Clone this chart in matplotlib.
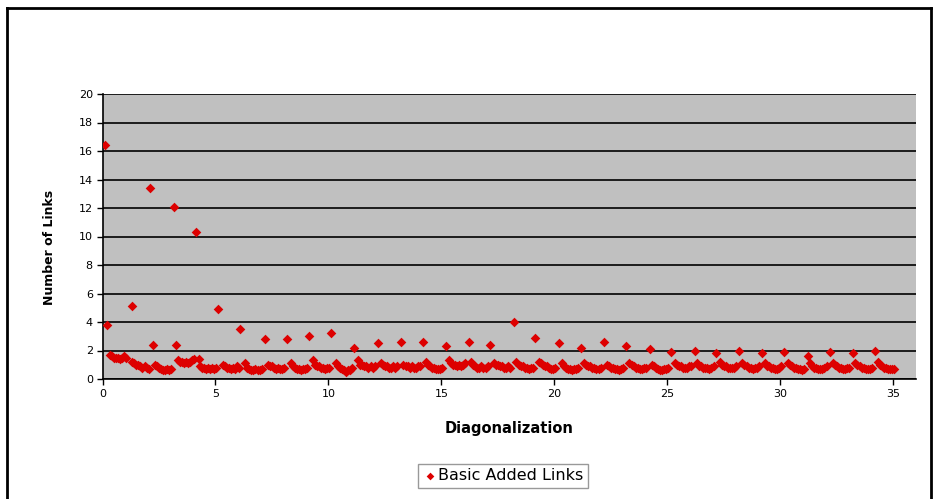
import numpy as np
import matplotlib
matplotlib.use("Agg")
import matplotlib.pyplot as plt
from matplotlib.lines import Line2D

# peak point of every diagonalization step (x, value)
peak_x = [0.09, 1.31, 2.11, 3.17, 4.14, 5.10, 6.08, 7.18, 8.15, 9.16,
          10.13, 11.14, 12.20, 13.21, 14.18, 15.19, 16.20, 17.17, 18.19, 19.15,
          20.21, 21.18, 22.19, 23.16, 24.22, 25.14, 26.20, 27.13, 28.18, 29.19,
          30.16, 31.22, 32.19, 33.20, 34.17]
peak_y = [16.4, 5.1, 13.4, 12.1, 10.3, 4.9, 3.5, 2.8, 2.8, 3.0,
          3.2, 2.2, 2.5, 2.6, 2.6, 2.3, 2.6, 2.4, 4.0, 2.9,
          2.5, 2.2, 2.6, 2.3, 2.1, 1.9, 2.0, 1.8, 2.0, 1.8,
          1.9, 1.6, 1.9, 1.8, 2.0]

# a few second points right after the peak
extra_x = [0.22, 2.25, 3.26, 4.27]
extra_y = [3.8, 2.4, 2.4, 1.4]

# offsets of the low points inside each step
low_off = [0.32, 0.41, 0.50, 0.59, 0.68, 0.77, 0.86, 0.95, 1.04]
low_y = [
    [1.7, 1.6, 1.5, 1.5, 1.5, 1.4, 1.5, 1.6, 1.5],
    [1.2, 1.1, 1.0, 1.0, 0.9, 0.8, 0.9, 0.8, 0.7],
    [1.0, 0.9, 0.8, 0.7, 0.6, 0.6, 0.7, 0.6, 0.7],
    [1.3, 1.2, 1.2, 1.1, 1.2, 1.1, 1.2, 1.3, 1.4],
    [0.9, 0.8, 0.8, 0.7, 0.8, 0.7, 0.8, 0.7, 0.8],
    [1.0, 0.9, 0.8, 0.8, 0.7, 0.8, 0.7, 0.9, 0.8],
    [1.1, 0.8, 0.7, 0.6, 0.6, 0.7, 0.6, 0.6, 0.7],
    [1.0, 0.9, 0.9, 0.8, 0.7, 0.8, 0.7, 0.7, 0.8],
    [1.1, 0.9, 0.8, 0.7, 0.7, 0.6, 0.7, 0.7, 0.8],
    [1.3, 1.0, 0.9, 0.9, 0.8, 0.8, 0.7, 0.8, 0.8],
    [1.1, 0.9, 0.8, 0.7, 0.6, 0.5, 0.6, 0.6, 0.8],
    [1.3, 1.0, 1.0, 0.9, 0.9, 0.8, 0.9, 0.8, 0.9],
    [1.1, 1.0, 0.9, 0.9, 0.8, 0.8, 0.9, 0.8, 0.9],
    [1.0, 0.9, 0.9, 0.8, 0.9, 0.8, 0.8, 0.9, 0.9],
    [1.2, 1.0, 0.9, 0.8, 0.8, 0.7, 0.7, 0.7, 0.8],
    [1.3, 1.1, 1.0, 1.0, 0.9, 1.0, 0.9, 1.0, 1.1],
    [1.2, 1.0, 0.9, 0.8, 0.8, 0.9, 0.8, 0.8, 0.9],
    [1.1, 1.0, 1.0, 0.9, 0.9, 0.8, 0.8, 0.9, 0.8],
    [1.2, 1.0, 0.9, 0.9, 0.8, 0.8, 0.7, 0.8, 0.8],
    [1.2, 1.1, 1.0, 0.9, 0.9, 0.8, 0.7, 0.7, 0.8],
    [1.1, 0.9, 0.8, 0.7, 0.7, 0.6, 0.7, 0.7, 0.8],
    [1.1, 1.0, 0.9, 0.9, 0.8, 0.8, 0.7, 0.7, 0.8],
    [1.0, 0.9, 0.8, 0.8, 0.7, 0.7, 0.6, 0.7, 0.8],
    [1.1, 1.0, 0.9, 0.8, 0.8, 0.7, 0.7, 0.8, 0.8],
    [1.0, 0.9, 0.8, 0.7, 0.6, 0.6, 0.7, 0.7, 0.8],
    [1.1, 1.0, 0.9, 0.9, 0.8, 0.8, 0.8, 0.9, 0.9],
    [1.1, 0.9, 0.9, 0.8, 0.8, 0.8, 0.7, 0.8, 0.9],
    [1.2, 1.0, 0.9, 0.9, 0.8, 0.8, 0.8, 0.8, 0.9],
    [1.1, 1.0, 0.9, 0.8, 0.8, 0.7, 0.8, 0.8, 0.9],
    [1.1, 0.9, 0.9, 0.8, 0.8, 0.7, 0.7, 0.8, 0.9],
    [1.1, 1.0, 0.9, 0.8, 0.8, 0.7, 0.7, 0.6, 0.7],
    [1.1, 0.9, 0.8, 0.8, 0.7, 0.7, 0.7, 0.8, 0.9],
    [1.1, 1.0, 0.9, 0.8, 0.8, 0.7, 0.7, 0.8, 0.8],
    [1.1, 1.0, 0.9, 0.8, 0.8, 0.7, 0.7, 0.7, 0.8],
    [1.2, 1.0, 0.9, 0.8, 0.8, 0.7, 0.7, 0.7, 0.7],
]

xs = list(peak_x) + list(extra_x)
ys = list(peak_y) + list(extra_y)
for k, row in enumerate(low_y):
    for off, v in zip(low_off, row):
        xs.append(k + off)
        ys.append(v)

fig = plt.figure(figsize=(9.4, 4.99), dpi=100)
ax = fig.add_axes([102.5 / 940, 1 - 379 / 499, (916 - 102.5) / 940, (379 - 94) / 499])
ax.set_facecolor("#c0c0c0")
ax.scatter(xs, ys, marker="D", s=24, color="#dd0000", linewidths=0, zorder=3,
           label="Basic Added Links")

ax.set_xlim(0, 36)
ax.set_ylim(0, 20)
ax.set_xticks(np.arange(0, 36, 5))
ax.set_yticks(np.arange(0, 21, 2))
ax.yaxis.grid(True, color="black", linewidth=1.2)
ax.set_axisbelow(True)
for s in ["top", "right"]:
    ax.spines[s].set_visible(False)
for s in ["left", "bottom"]:
    ax.spines[s].set_linewidth(1.2)
ax.tick_params(direction="out", length=4, width=1, labelsize=8, pad=3)

ax.set_ylabel("Number of Links", fontsize=9, fontweight="bold")
ax.yaxis.set_label_coords(-0.057, 0.46)
ax.set_xlabel("Diagonalization", fontsize=10.5, fontweight="bold", labelpad=16)

leg = ax.legend(loc="center", bbox_to_anchor=(503 / 940, 1 - 476 / 499),
                bbox_transform=fig.transFigure, frameon=True, fancybox=False,
                handletextpad=0.1, borderpad=0.3, handlelength=0.8,
                prop={"family": "DejaVu Sans", "size": 11.5}, markerscale=0.8)
leg.get_frame().set_edgecolor("#808080")
leg.get_frame().set_linewidth(1)

# outer chart border
for xd, yd in [([7 / 940, 7 / 940], [0, 1 - 8 / 499]),
               ([7 / 940, 931 / 940], [1 - 8 / 499, 1 - 8 / 499]),
               ([931 / 940, 931 / 940], [0, 1 - 8 / 499])]:
    fig.add_artist(Line2D(xd, yd, color="black", linewidth=2))

fig.savefig("out.png", dpi=100)
